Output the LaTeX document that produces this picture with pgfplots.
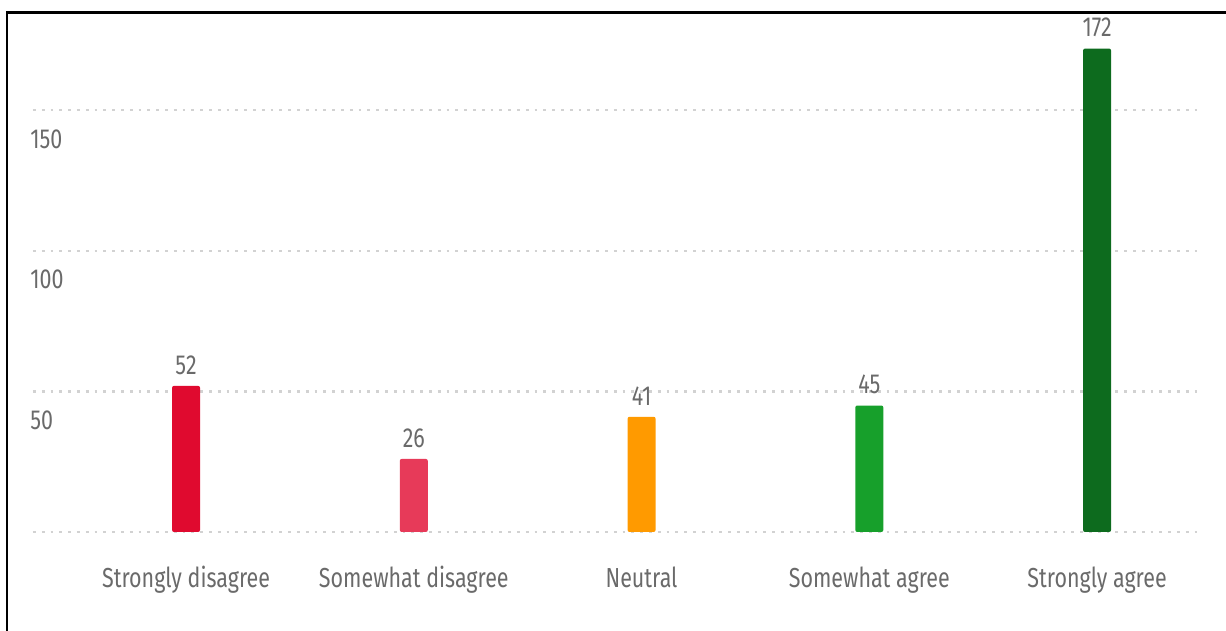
\documentclass[border=0pt]{standalone}
\usepackage{fontspec}
\setmainfont{Fira Sans}[FakeStretch=0.78]
\usepackage{pgfplots}
\pgfplotsset{compat=1.18}
\definecolor{txtgray}{HTML}{6A6A6A}
\definecolor{gridgray}{HTML}{D2D2D2}
\definecolor{c1}{HTML}{E00A2F}
\definecolor{c2}{HTML}{E73A59}
\definecolor{c3}{HTML}{FF9A00}
\definecolor{c4}{HTML}{17A02B}
\definecolor{c5}{HTML}{0D6B1E}
\begin{document}
\begin{tikzpicture}
\useasboundingbox (0,0) rectangle (613pt,315.5pt);
\begin{axis}[
  at={(16.5pt,49.5pt)}, anchor=south west,
  scale only axis, width=583.5pt, height=260pt,
  xmin=-0.672, xmax=4.452, ymin=0, ymax=185,
  axis line style={draw=none}, tick style={draw=none},
  ymajorgrids, grid style={gridgray, line width=1.1pt, dash pattern=on 1.4pt off 3pt},
  ytick={0,50,100,150}, yticklabels={,50,100,150},
  xtick={0,1,2,3,4},
  xticklabels={Strongly disagree,Somewhat disagree,Neutral,Somewhat agree,Strongly agree},
  /pgf/number format/assume math mode=true,
  ticklabel style={font=\fontsize{13.75pt}{16pt}\selectfont, text=txtgray, inner sep=0pt},
  xticklabel style={anchor=base, yshift=-23.5pt},
  yticklabel style={anchor=base west, xshift=-1.5pt, yshift=-19pt},
  ybar, bar width=14pt, bar shift=0pt,
  nodes near coords,
  nodes near coords style={font=\fontsize{13.75pt}{16pt}\selectfont, text=txtgray, inner sep=0pt, anchor=south, yshift=5.5pt},
]
\addplot[fill=c1, draw=none, rounded corners=1pt] coordinates {(0,52)};
\addplot[fill=c2, draw=none, rounded corners=1pt] coordinates {(1,26)};
\addplot[fill=c3, draw=none, rounded corners=1pt] coordinates {(2,41)};
\addplot[fill=c4, draw=none, rounded corners=1pt] coordinates {(3,45)};
\addplot[fill=c5, draw=none, rounded corners=1pt] coordinates {(4,172)};
\end{axis}
\draw[line width=1.3pt, black] (3.5pt,0) -- (3.5pt,309.3pt) -- (613pt,309.3pt);
\end{tikzpicture}
\end{document}
